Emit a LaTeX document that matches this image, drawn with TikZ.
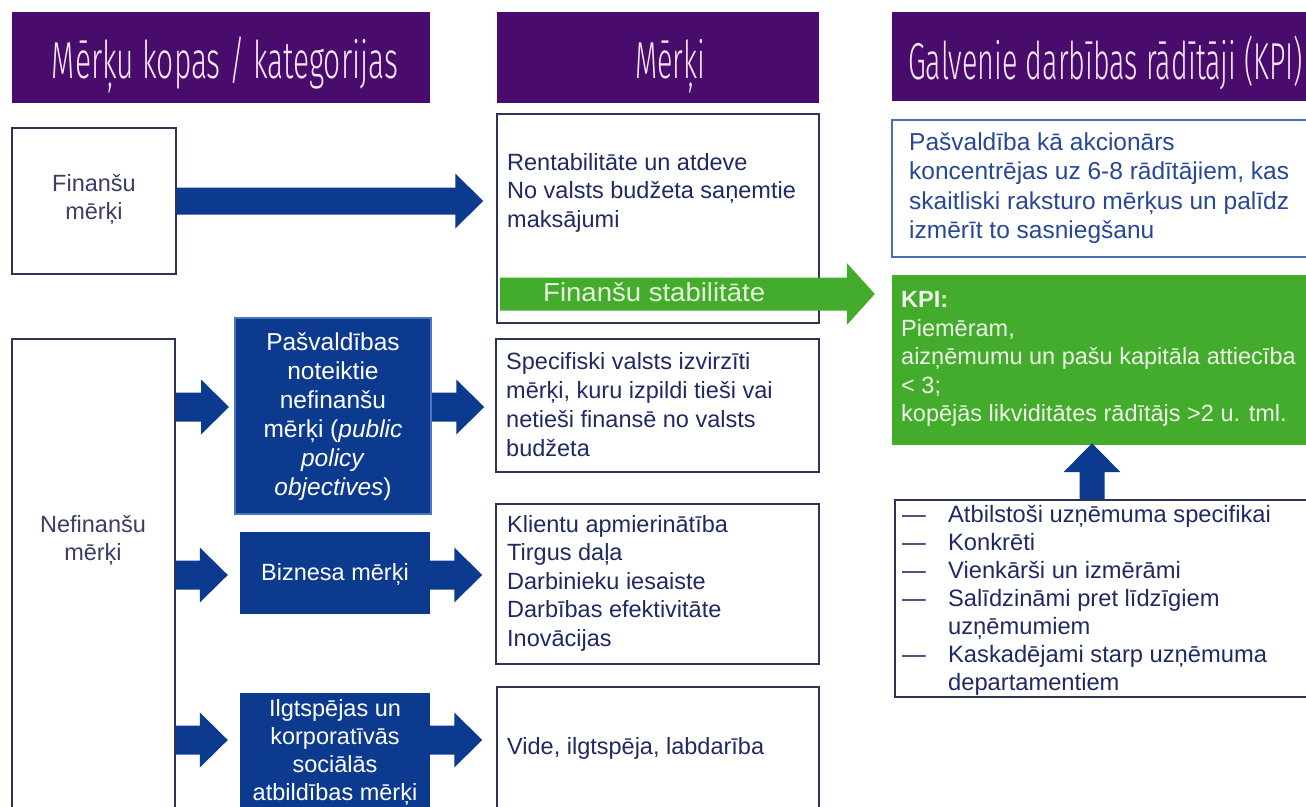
\documentclass[tikz,border=0pt]{standalone}
\usepackage{fontspec}
\setmainfont{Liberation Sans}
\newfontfamily\hdrfont{Fira Sans Light}
\usetikzlibrary{calc}
\definecolor{hdrpurple}{RGB}{74,12,108}
\definecolor{navy}{RGB}{12,58,142}
\definecolor{kgreen}{RGB}{68,172,44}
\definecolor{boxline}{RGB}{45,52,85}
\definecolor{txtnavy}{RGB}{32,42,98}
\definecolor{txtgrey}{RGB}{58,62,100}
\definecolor{kpiblue}{RGB}{72,110,186}
\definecolor{kpitext}{RGB}{40,72,150}
\definecolor{hdrtext}{RGB}{246,232,248}
\definecolor{pasvline}{RGB}{80,116,190}
\definecolor{gtext}{RGB}{228,245,218}
\definecolor{ktext}{RGB}{238,246,232}
\begin{document}
\begin{tikzpicture}[x=1pt,y=-1pt,
  hdr/.style={fill=hdrpurple, draw=none, inner sep=0pt},
  hdrtxt/.style={text=hdrtext, inner sep=0pt, anchor=base, font=\hdrfont\fontsize{52}{52}\selectfont},
  box/.style={draw=boxline, line width=1.5pt, fill=white, inner sep=0pt},
  bluebox/.style={fill=navy, draw=none, inner sep=0pt},
  ltxt/.style={text=txtgrey, inner sep=0pt, align=center, font=\fontsize{23.5}{28}\selectfont},
  mtxt/.style={text=txtnavy, inner sep=0pt, anchor=west, align=left, font=\fontsize{23.5}{28.5}\selectfont},
  wtxt/.style={text=white, inner sep=0pt, align=center, font=\fontsize{23.5}{28}\selectfont},
  % horizontal block arrow: shaft half width, head half width, head length, gap before target
  hblk/.style n args={4}{to path={let \p1=(\tikztostart), \p2=(\tikztotarget) in
    (\x1,\y1+#1) -- (\x2-#4-#3,\y1+#1) -- (\x2-#4-#3,\y1+#2) -- (\x2-#4,\y1) --
    (\x2-#4-#3,\y1-#2) -- (\x2-#4-#3,\y1-#1) -- (\x1,\y1-#1) -- cycle}},
  % upward block arrow
  vblk/.style n args={4}{to path={let \p1=(\tikztostart), \p2=(\tikztotarget) in
    (\x1-#1,\y1) -- (\x1-#1,\y2-#4-#3) -- (\x1-#2,\y2-#4-#3) -- (\x1,\y2-#4) --
    (\x1+#2,\y2-#4-#3) -- (\x1+#1,\y2-#4-#3) -- (\x1+#1,\y1) -- cycle}},
  barrow/.style={fill=navy, draw=none},
  garrow/.style={fill=kgreen, draw=none}
]
\clip (0,0) rectangle (1306,806);
\fill[white] (0,0) rectangle (1306,806);

% headers
\node[hdr, minimum width=418pt, minimum height=91pt] (h1) at (221,57.5) {};
\node[hdr, minimum width=322pt, minimum height=91pt] (h2) at (658,57.5) {};
\node[hdr, minimum width=428pt, minimum height=89pt] (h3) at (1106,56.5) {};
\node[hdrtxt] (h1t) at (225,78) {\resizebox{346pt}{\height}{Mērķu kopas / kategorijas}};
\node[hdrtxt] (h2t) at (670,78) {\resizebox{70pt}{\height}{Mērķi}};
\node[hdrtxt, anchor=base west] (h3t) at (908,79) {\resizebox{395pt}{\height}{Galvenie darbības rādītāji (KPI)}};

% left column
\node[box, minimum width=164pt, minimum height=146pt] (fin) at (94,201) {};
\node[ltxt] (fint) at (94,199) {Finanšu\\mērķi};
\node[box, minimum width=163pt, minimum height=491pt] (nef) at (93.5,584.5) {};
\node[ltxt] (neft) at (93,540) {Nefinanšu\\mērķi};

% blue boxes
\node[bluebox, draw=pasvline, line width=2pt, minimum width=196pt, minimum height=196pt] (pasv) at (333,416) {};
\node[wtxt, font=\fontsize{24.5}{29}\selectfont] (pasvt) at (333,417) {Pašvaldības\\noteiktie\\nefinanšu\\mērķi (\textit{public}\\\textit{policy}\\\textit{objectives})};
\node[bluebox, minimum width=190pt, minimum height=82pt] (biz) at (335,573) {};
\node[wtxt] (bizt) at (335,574) {Biznesa mērķi};
\node[bluebox, minimum width=190pt, minimum height=137pt] (ilg) at (335,761.5) {};
\node[wtxt] (ilgt) at (335,752) {Ilgtspējas un\\korporatīvās\\sociālās\\atbildības mērķi};

% middle column
\node[box, minimum width=322pt, minimum height=209pt] (rent) at (658,218.5) {};
\node[mtxt] (rentt) at (507,192.5) {Rentabilitāte un atdeve\\No valsts budžeta saņemtie\\maksājumi};
\node[box, minimum width=323pt, minimum height=133pt] (spec) at (657.5,405.5) {};
\node[mtxt, font=\fontsize{23.5}{29}\selectfont] (spect) at (506,405) {Specifiski valsts izvirzīti\\mērķi, kuru izpildi tieši vai\\netieši finansē no valsts\\budžeta};
\node[box, minimum width=323pt, minimum height=160pt] (kl) at (657.5,584) {};
\node[mtxt] (klt) at (507,583) {Klientu apmierinātība\\Tirgus daļa\\Darbinieku iesaiste\\Darbības efektivitāte\\Inovācijas};
\node[box, minimum width=322pt, minimum height=143pt] (vide) at (658,758.5) {};
\node[mtxt] (videt) at (507,748) {Vide, ilgtspēja, labdarība};

% right column
\node[draw=kpiblue, line width=2pt, fill=white, inner sep=0pt, minimum width=428pt, minimum height=137pt] (kpitop) at (1106,188.5) {};
\node[mtxt, text=kpitext, font=\fontsize{24.5}{29.5}\selectfont] (kpitopt) at (909,188) {Pašvaldība kā akcionārs\\koncentrējas uz 6-8 rādītājiem, kas\\skaitliski raksturo mērķus un palīdz\\izmērīt to sasniegšanu};
\node[fill=kgreen, draw=none, inner sep=0pt, minimum width=428pt, minimum height=170pt] (kpi) at (1106,360) {};
\node[mtxt, text=ktext] (kpit) at (901,359) {\textbf{KPI:}\\Piemēram,\\aizņēmumu un pašu kapitāla attiecība\\< 3;\\kopējās likviditātes rādītājs >2 u. tml.};

% connectors
\coordinate (ya) at (0,407);
\coordinate (yb) at (0,575);
\coordinate (yc) at (0,740);
\coordinate (gs) at (500,294);
\coordinate (us) at (1092,500);

\path[barrow, hblk={13.5}{27.5}{28}{13}] (fin.east) to (fin.east -| rent.west);
\path[barrow, hblk={14.5}{27.5}{28}{5}] (nef.east |- ya) to (pasv.west |- ya);
\path[barrow, hblk={14.5}{27.5}{28}{11}] (pasv.east |- ya) to (spec.west |- ya);
\path[barrow, hblk={14.5}{27.5}{28}{12}] (nef.east |- yb) to (biz.west |- yb);
\path[barrow, hblk={14.5}{27.5}{28}{13}] (biz.east |- yb) to (kl.west |- yb);
\path[barrow, hblk={14.5}{27.5}{28}{12}] (nef.east |- yc) to (ilg.west |- yc);
\path[barrow, hblk={14.5}{27.5}{28}{14}] (ilg.east |- yc) to (vide.west |- yc);
\path[garrow, hblk={16.5}{31}{28}{17}] (gs) to (gs -| kpi.west);
\node[text=gtext, inner sep=0pt, anchor=west, font=\fontsize{26}{26}\selectfont] (gst) at (543,292) {\resizebox{222pt}{\height}{Finanšu stabilitāte}};
\path[barrow, vblk={12.5}{28.5}{29}{-2}] (us) to (us |- kpi.south);

% list box
\node[box, minimum width=425pt, minimum height=197pt] (lst) at (1107.5,598.5) {};
\node[mtxt, font=\fontsize{23.7}{28}\selectfont] (lstt) at (902,600) {\makebox[46pt][l]{—}Atbilstoši uzņēmuma specifikai\\\makebox[46pt][l]{—}Konkrēti\\\makebox[46pt][l]{—}Vienkārši un izmērāmi\\\makebox[46pt][l]{—}Salīdzināmi pret līdzīgiem\\\hspace*{46pt}uzņēmumiem\\\makebox[46pt][l]{—}Kaskadējami starp uzņēmuma\\\hspace*{46pt}departamentiem};
\end{tikzpicture}
\end{document}
